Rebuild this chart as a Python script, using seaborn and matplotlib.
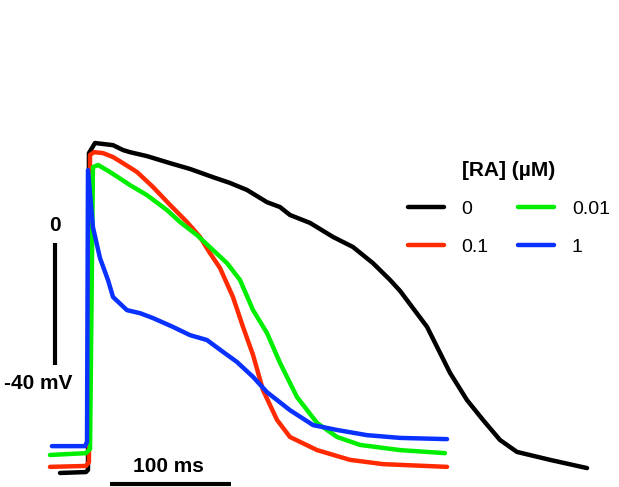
import pandas as pd
import seaborn as sns
import matplotlib.pyplot as plt

# Action potential traces, time in ms (0 = upstroke), voltage in mV
t_0 = [-23.1, -1.7, 0.0, 0.8, 5.8, 20.7, 28.9, 34.7, 48.8, 67.8, 84.3, 103.3, 117.4, 131.4,
       147.9, 158.7, 166.9, 183.5, 202.5, 219.0, 235.5, 249.6, 257.9, 280.2, 299.2, 313.2,
       326.4, 340.5, 354.5, 381.8, 412.4]
v_0 = [-75.4, -75.1, -74.4, 29.5, 32.8, 32.1, 30.5, 29.8, 28.5, 26.2, 24.3, 21.6, 19.7, 17.4,
       13.4, 11.8, 9.2, 6.6, 2.0, -1.3, -6.6, -12.1, -15.7, -27.5, -42.6, -51.5,
       -58.0, -64.6, -68.5, -71.1, -73.8]

t_01 = [-31.4, -1.7, 0.8, 1.7, 5.0, 12.4, 20.7, 28.9, 40.5, 53.7, 67.8, 81.8, 92.6, 100.8,
        109.1, 119.8, 128.1, 136.4, 144.6, 156.2, 166.9, 189.3, 216.5, 243.8, 296.7]
v_01 = [-73.4, -73.1, -71.8, 28.9, 29.8, 29.5, 28.2, 26.2, 23.3, 18.4, 12.5, 6.9, 2.0, -3.3,
        -8.2, -17.7, -27.5, -36.7, -48.2, -58.0, -63.6, -67.9, -71.1, -72.5, -73.4]

t_001 = [-31.4, -1.7, 1.7, 4.1, 8.3, 18.2, 34.7, 48.8, 65.3, 76.0, 90.1, 103.3, 114.9, 125.6,
         136.4, 147.9, 158.7, 172.7, 189.3, 205.8, 224.8, 257.9, 295.0]
v_001 = [-69.5, -68.9, -67.5, 24.9, 25.6, 23.3, 19.0, 15.7, 10.8, 6.9, 2.6, -2.3, -6.6, -12.1,
         -22.0, -29.5, -39.3, -50.5, -59.0, -63.6, -66.2, -67.9, -68.9]

t_1 = [-29.8, -2.5, -0.8, 0.0, 4.1, 9.9, 16.5, 20.7, 32.2, 43.0, 53.7, 70.2, 84.3, 98.3,
       111.6, 123.1, 136.4, 147.9, 166.9, 186.0, 205.8, 230.6, 257.9, 296.7]
v_1 = [-66.6, -66.6, -65.2, 23.9, 5.2, -4.9, -12.1, -17.7, -22.0, -23.0, -24.6, -27.5, -30.2,
       -31.8, -35.7, -39.0, -43.9, -48.9, -54.8, -59.7, -61.3, -63.0, -63.9, -64.3]

conc = ['0', '0.1', '0.01', '1']
colors = {'0': '#000000', '0.1': '#ff2a00', '0.01': '#00ee00', '1': '#0a32ff'}

frames = []
for c, t, v in zip(conc, [t_0, t_01, t_001, t_1], [v_0, v_01, v_001, v_1]):
    frames.append(pd.DataFrame({'t': t, 'V': v, 'RA': c}))
df = pd.concat(frames, ignore_index=True)

sns.set_style('white')
plt.rcParams['font.family'] = ['Liberation Sans', 'DejaVu Sans']
plt.rcParams['text.color'] = 'black'

fig = plt.figure(figsize=(6.19, 4.87), dpi=100)
ax = fig.add_axes([0, 0, 1, 1])
sns.lineplot(data=df, x='t', y='V', hue='RA', hue_order=conc, palette=colors,
             estimator=None, sort=False, linewidth=3.2, ax=ax)
ax.set_xlim(-72.7, 438.8)
ax.set_ylim(-80, 79.7)
ax.axis('off')

# scale bars
ax.plot([-27.3, -27.3], [0, -40], color='black', lw=3, solid_capstyle='butt')
ax.plot([18.2, 118.2], [-79, -79], color='black', lw=3, solid_capstyle='butt')
ax.text(-27.3, 5.9, '0', ha='center', va='center', fontsize=15, fontweight='bold')
ax.text(-41.3, -45.9, '-40 mV', ha='center', va='center', fontsize=15, fontweight='bold')
ax.text(66.1, -73.4, '100 ms', ha='center', va='center', fontsize=15, fontweight='bold')

leg = ax.legend(title='[RA] (µM)', ncol=2, frameon=False, fontsize=14,
                title_fontproperties={'weight': 'bold', 'size': 15},
                loc='upper left', bbox_to_anchor=(0.643, 0.689), bbox_transform=fig.transFigure,
                borderpad=0, handlelength=1.85, columnspacing=1.55, handletextpad=0.9,
                labelspacing=1.05)
for line in leg.get_lines():
    line.set_linewidth(3.2)

fig.savefig('out.png', dpi=100)
